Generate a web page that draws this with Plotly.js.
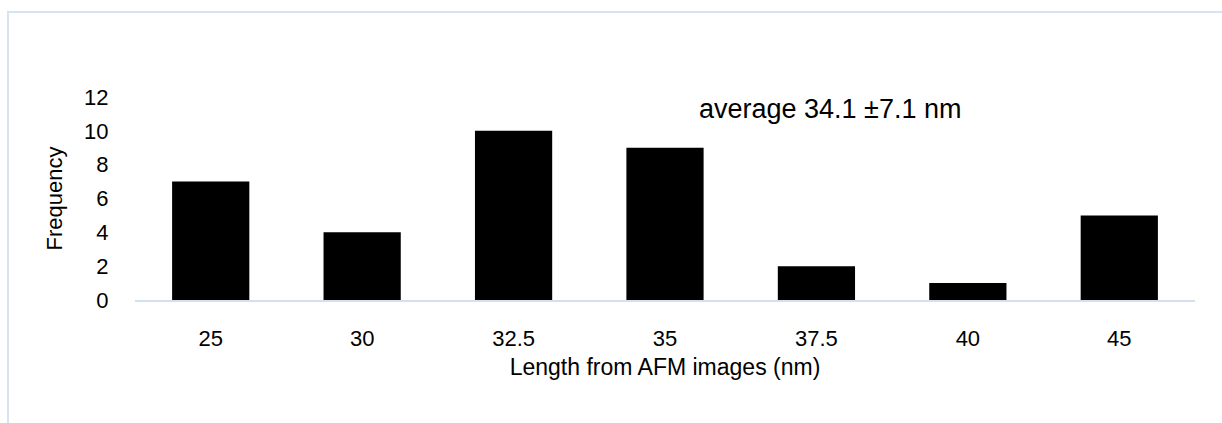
<!DOCTYPE html>
<html>
<head>
<meta charset="utf-8">
<script src="https://cdn.plot.ly/plotly-3.0.1.min.js"></script>
<style>
  html, body { margin: 0; padding: 0; background: #fff; }
  #chart { width: 1222px; height: 423px; }
</style>
</head>
<body>
<div id="chart"></div>
<script>
// Histogram of lengths measured from AFM images
const lengthBins = ["25", "30", "32.5", "35", "37.5", "40", "45"];
const frequency = [7, 4, 10, 9, 2, 1, 5];
const yTicks = [0, 2, 4, 6, 8, 10, 12];
const averageLabel = "average 34.1 \u00b17.1 nm";

const fontFamily = "Liberation Sans, Arial, sans-serif";

const trace = {
  type: "bar",
  x: lengthBins,
  y: frequency,
  marker: { color: "#000000", line: { width: 0 } },
  hoverinfo: "x+y"
};

const layout = {
  width: 1222,
  height: 423,
  margin: { l: 135, r: 27, t: 97, b: 123 },
  paper_bgcolor: "#ffffff",
  plot_bgcolor: "#ffffff",
  bargap: 0.49,
  showlegend: false,
  font: { family: fontFamily, color: "#000000", size: 20 },
  xaxis: {
    type: "category",
    showgrid: false,
    zeroline: false,
    showline: true,
    linecolor: "#d3e0f1",
    linewidth: 2,
    ticks: "outside",
    ticklen: 18,
    tickcolor: "rgba(0,0,0,0)",
    tickfont: { family: fontFamily, size: 22, color: "#000" },
    title: { text: "Length from AFM images (nm)", font: { family: fontFamily, size: 23, color: "#000" }, standoff: 8 }
  },
  yaxis: {
    range: [0, 12],
    tickvals: yTicks,
    showgrid: false,
    zeroline: false,
    showline: false,
    ticks: "outside",
    ticklen: 21,
    tickcolor: "rgba(0,0,0,0)",
    tickfont: { family: fontFamily, size: 22, color: "#000" },
    title: { text: "Frequency", font: { family: fontFamily, size: 22, color: "#000" }, standoff: 15 }
  },
  annotations: [{
    xref: "paper", yref: "y",
    x: 0.656, y: 11.3,
    xanchor: "center", yanchor: "middle",
    text: averageLabel,
    showarrow: false,
    font: { family: fontFamily, size: 27, color: "#000" }
  }],
  shapes: [{
    type: "rect",
    xref: "paper", yref: "paper",
    x0: -0.1198, x1: 1.05,
    y0: -0.7, y1: 1.4187,
    line: { color: "#d6e3f3", width: 2 },
    fillcolor: "rgba(0,0,0,0)",
    layer: "below"
  }]
};

Plotly.newPlot("chart", [trace], layout, { displayModeBar: false, staticPlot: true });
</script>
</body>
</html>
